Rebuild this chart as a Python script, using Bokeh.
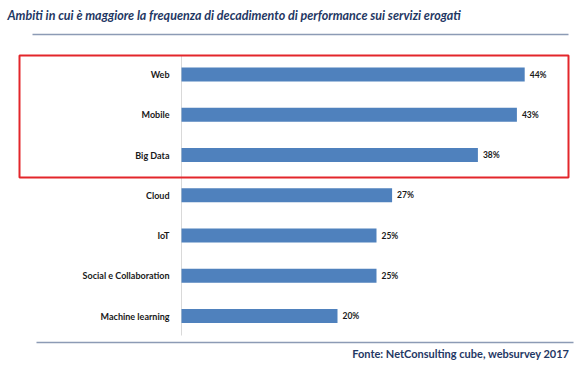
from bokeh.plotting import figure
from bokeh.models import ColumnDataSource, Label, Range1d
from bokeh.core.properties import value
from bokeh.embed import file_html
from bokeh.resources import INLINE

# ---- data ----
categories = ["Web", "Mobile", "Big Data", "Cloud", "IoT",
              "Social e Collaboration", "Machine learning"]
values = [44, 43, 38, 27, 25, 25, 20]
value_labels = ["44%", "43%", "38%", "27%", "25%", "25%", "20%"]
title_text = "Ambiti in cui è maggiore la frequenza di decadimento di performance sui servizi erogati"
source_text = "Fonte: NetConsulting cube, websurvey 2017"
highlighted = ["Web", "Mobile", "Big Data"]

# ---- geometry helpers (canvas pixel -> data) ----
X0 = 181.0      # pixel x of 0%
PXP = 7.8       # pixels per percent
Y0 = 315.5      # pixel y of last row
ROW = 40.25     # pixels per row

def sx(X):
    return (X - X0) / PXP

def sy(Y):
    return (Y0 - Y) / ROW

n = len(categories)
ypos = [n - 1 - i for i in range(n)]

src = ColumnDataSource(dict(cat=categories, val=values, lab=value_labels, y=ypos,
                            zero=[0] * n))

W, H = 578, 366
p = figure(width=W, height=H, output_backend="svg", toolbar_location=None,
           x_range=Range1d(sx(0), sx(W)), y_range=Range1d(sy(H), sy(0)),
           x_axis_location=None, y_axis_location=None, min_border=0,
           outline_line_color=None, background_fill_color="white")
p.xgrid.visible = False
p.ygrid.visible = False

# vertical axis line
p.segment(x0=[0], y0=[sy(55)], x1=[0], y1=[sy(335)], line_color="#D9D9D9", line_width=1)

# bars
p.hbar(y="y", left="zero", right="val", height=0.35, source=src,
       fill_color="#4F81BD", line_color=None)

# category labels
p.text(x="zero", y="y", text="cat", source=src, x_offset=-12,
       text_align="right", text_baseline="middle",
       text_font=value("Lato"), text_font_style="bold", text_font_size="9px",
       text_color="#1a1a1a")

# value labels
p.text(x="val", y="y", text="lab", source=src, x_offset=5,
       text_align="left", text_baseline="middle",
       text_font=value("Lato"), text_font_style="bold", text_font_size="8.5px",
       text_color="#1a1a1a")

# red highlight box around first three categories
hi_idx = [categories.index(c) for c in highlighted]
top_y = max(ypos[i] for i in hi_idx) + 19 / ROW
bot_y = min(ypos[i] for i in hi_idx) - 22.5 / ROW
p.quad(left=[sx(19)], right=[sx(568)], top=[top_y], bottom=[bot_y],
       fill_color=None, line_color="#E3262B", line_width=2)

# title and rules
p.add_layout(Label(x=sx(7), y=sy(15), text=title_text, text_align="left",
                   text_baseline="middle", text_font="Lato",
                   text_font_style="bold italic", text_font_size="12.5px",
                   text_color="#1F3864"))
p.segment(x0=[sx(32)], y0=[sy(34)], x1=[sx(568)], y1=[sy(34)],
          line_color="#8C9BB5", line_width=1.5)
p.segment(x0=[sx(36)], y0=[sy(342)], x1=[sx(573)], y1=[sy(342)],
          line_color="#8C9BB5", line_width=1.5)
p.add_layout(Label(x=sx(569), y=sy(353), text=source_text, text_align="right",
                   text_baseline="middle", text_font="Lato",
                   text_font_style="bold", text_font_size="11px",
                   text_color="#1F3864"))

open("out.html", "w").write(file_html(p, INLINE))
